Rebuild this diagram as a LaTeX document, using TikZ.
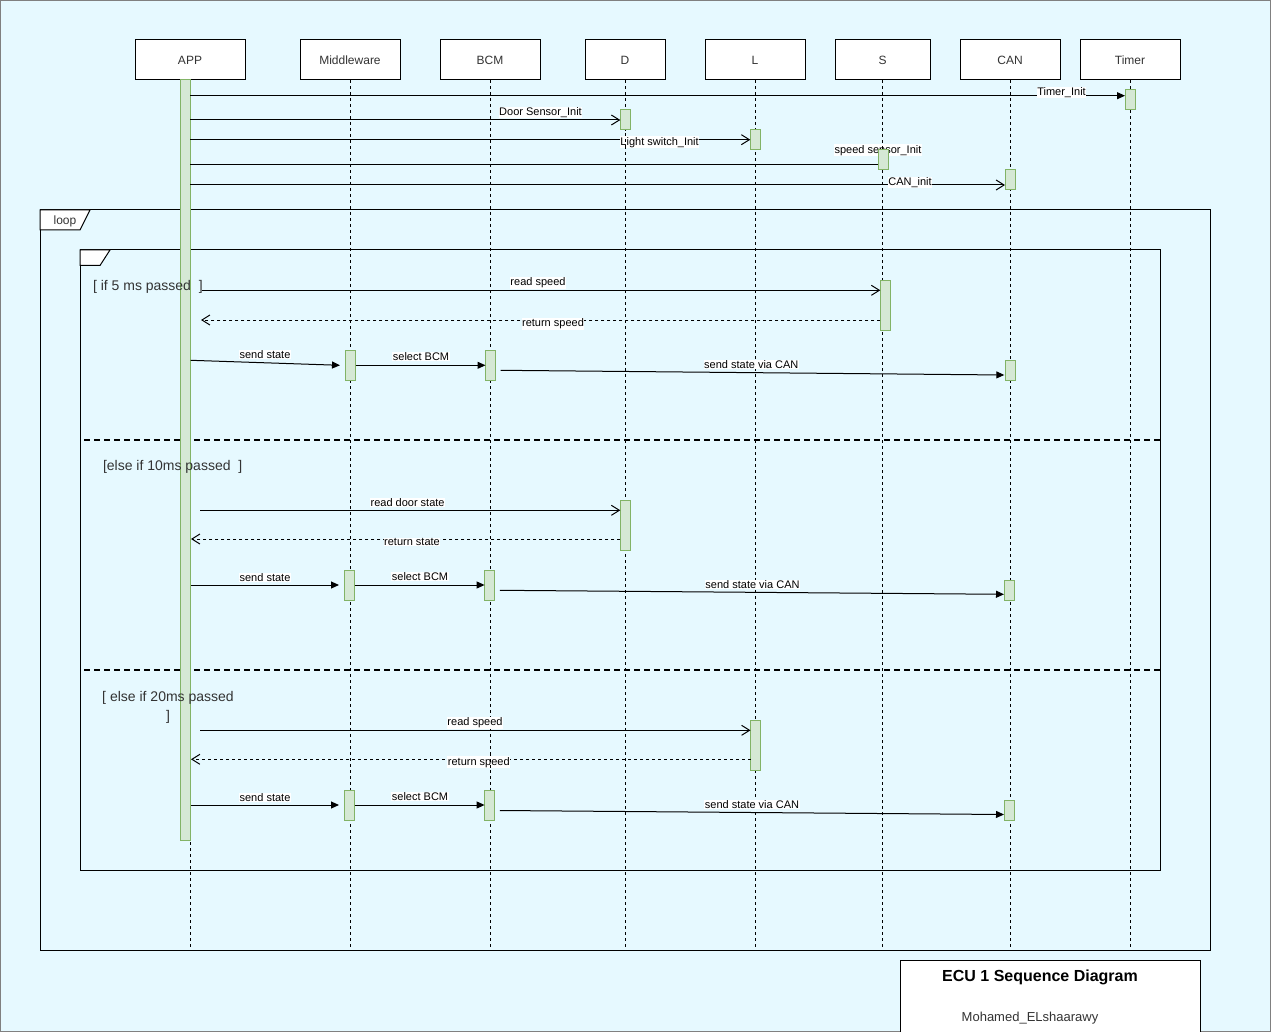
\documentclass[tikz,border=0pt]{standalone}
\usepackage{fontspec}
\setmainfont{Liberation Sans}
\usetikzlibrary{arrows.meta}
\definecolor{bgcol}{HTML}{E6F9FF}
\definecolor{actfill}{HTML}{D5E8D4}
\definecolor{actdraw}{HTML}{82B366}
\definecolor{txtgray}{HTML}{333333}
\begin{document}
\begin{tikzpicture}[x=1pt,y=-1pt,
  every node/.style={inner sep=0pt,outer sep=0pt},
  party/.style={draw=black,fill=white,line width=1pt,minimum width=#1,minimum height=40,
    font=\fontsize{12}{14}\selectfont,text=txtgray},
  lifeline/.style={draw=black,line width=0.9pt,dash pattern=on 3pt off 3pt},
  act/.style={draw=actdraw,fill=actfill,line width=1pt,minimum width=10,minimum height=#1},
  frame/.style={draw=black,line width=1pt},
  separator/.style={draw=black,line width=2pt,dash pattern=on 6pt off 4pt},
  sync/.style={draw=black,line width=1pt,-{Triangle[length=8pt,width=7pt]}},
  async/.style={draw=black,line width=1pt,-{Straight Barb[length=8pt,width=10pt]}},
  reply/.style={async,dash pattern=on 3pt off 3pt},
  lbl/.style={fill=white,inner sep=0.6pt,yshift=-1.2pt,font=\fontsize{11}{13}\selectfont},
  guard/.style={font=\fontsize{14}{19}\selectfont,text=txtgray,yshift=-1pt},
]
% page and background
\useasboundingbox (0,0) rectangle (1271,1032);
\fill[bgcol] (0,0) rectangle (1271,1032);
\draw[gray,line width=1pt] (0.5,0.5) rectangle (1270.5,1031.5);

% combined fragments
\draw[frame] (40,210) rectangle (1210,950);
\draw[frame,fill=white] (40,210) -- (90,210) -- (80,230) -- (40,230) -- cycle;
\node[font=\fontsize{12}{14}\selectfont,text=txtgray,yshift=-1pt] (looplbl) at (65,220) {loop};
\draw[frame] (80,250) rectangle (1160,870);
\draw[frame,fill=white] (80,250) -- (110,250) -- (100,265.5) -- (80,265.5) -- cycle;
\draw[separator] (84,440) -- (1160,440);
\draw[separator] (84,670) -- (1160,670);

% participants
\begin{scope}[every node/.append style={text depth=0pt}]
\node[party=110] (app) at (190,60) {APP};
\node[party=100] (mw)  at (350,60) {Middleware};
\node[party=100] (bcm) at (490,60) {BCM};
\node[party=80]  (d)   at (625,60) {D};
\node[party=100] (l)   at (755,60) {L};
\node[party=95]  (s)   at (882.5,60) {S};
\node[party=100] (can) at (1010,60) {CAN};
\node[party=100] (tmr) at (1130,60) {Timer};
\end{scope}

% label partly hidden by the S activation
\node[lbl] (lblSpeedInit) at (878,149) {speed sensor\_Init};

% lifelines
\foreach \p/\x in {app/190,mw/350.3,bcm/490.3,d/625.3,l/755.5,s/882.5,can/1010,tmr/1130}
  \draw[lifeline] (\p.south -| \x,0) -- (\x,950);

% activations
\node[act=760] (appbar) at (185,460) {};
\node[act=20] (tmrA) at (1130,100) {};
\node[act=20] (dA0) at (625.3,120) {};
\node[act=20] (lA0) at (755.3,140) {};
\node[act=20] (sA0) at (883,160) {};
\node[act=20] (canA0) at (1010,180) {};

\node[act=50] (sA1) at (885.3,305.3) {};
\node[act=30] (mwA1) at (350.5,365.3) {};
\node[act=30] (bcmA1) at (490.5,365.3) {};
\node[act=20] (canA1) at (1010.3,370.2) {};

\node[act=50] (dA2) at (625.3,525) {};
\node[act=30] (mwA2) at (349.5,585.3) {};
\node[act=30] (bcmA2) at (489.6,585.3) {};
\node[act=20] (canA2) at (1009.5,590) {};

\node[act=50] (lA3) at (755.5,745) {};
\node[act=30] (mwA3) at (349.5,805.3) {};
\node[act=30] (bcmA3) at (489.6,805.3) {};
\node[act=20] (canA3) at (1009.5,810) {};

% initialisation messages
\draw[sync]  (appbar.east |- 0,95.7) -- (tmrA.west |- 0,95.7);
\draw[async] (appbar.east |- 0,120) -- (dA0.west |- 0,120);
\draw[async] (appbar.east |- 0,139.7) -- (lA0.west |- 0,139.7);
\draw[line width=1pt] (appbar.east |- 0,164.3) -- (sA0.west |- 0,164.3);
\draw[async] (appbar.east |- 0,185) -- (canA0.west |- 0,185);

% first alternative: every 5 ms
\coordinate (g1a) at (202,290.3);
\coordinate (g1b) at (201,320);
\coordinate (g1c) at (190.7,360.3);
\coordinate (g1d) at (340,365.3);
\coordinate (g1e) at (500.7,370.3);
\coordinate (g1f) at (1004.3,375);
\draw[async] (g1a) -- (sA1.west |- g1a);
\draw[reply] (sA1.west |- g1b) -- (g1b);
\draw[sync] (g1c) -- (g1d);
\draw[sync] (mwA1.east) -- (bcmA1.west);
\draw[sync] (g1e) -- (g1f);

% second alternative: every 10 ms
\coordinate (g2a) at (200,510.3);
\coordinate (g2b) at (191,539);
\coordinate (g2c) at (191.4,585);
\coordinate (g2d) at (339,585);
\coordinate (g2e) at (499.8,590.3);
\coordinate (g2f) at (1004,594.3);
\draw[async] (g2a) -- (dA2.west |- g2a);
\draw[reply] (dA2.west |- g2b) -- (g2b);
\draw[sync] (g2c) -- (g2d);
\draw[sync] (mwA2.east |- g2c) -- (bcmA2.west |- g2c);
\draw[sync] (g2e) -- (g2f);

% third alternative: every 20 ms
\coordinate (g3a) at (200,730.3);
\coordinate (g3b) at (191,759.3);
\coordinate (g3c) at (191.4,805);
\coordinate (g3d) at (339,805);
\coordinate (g3e) at (499.8,810.5);
\coordinate (g3f) at (1004,814.5);
\draw[async] (g3a) -- (lA3.west |- g3a);
\draw[reply] (lA3.west |- g3b) -- (g3b);
\draw[sync] (g3c) -- (g3d);
\draw[sync] (mwA3.east |- g3c) -- (bcmA3.west |- g3c);
\draw[sync] (g3e) -- (g3f);

% message labels
\node[lbl] (lblTimer) at (1061.5,91) {Timer\_Init};
\node[lbl] (lblDoor) at (540.5,111.3) {Door Sensor\_Init};
\node[lbl] (lblLight) at (659.6,141) {Light switch\_Init};
\node[lbl] (lblCanInit) at (910,181) {CAN\_init};

\node[lbl] (lblRead1) at (538,281.7) {read speed};
\node[lbl] (lblRet1) at (553,322.7) {return speed};
\node[lbl] (lblSend1) at (265,353) {send state};
\node[lbl] (lblSel1) at (421,355.3) {select BCM};
\node[lbl] (lblCan1) at (751.3,363.3) {send state via CAN};

\node[lbl] (lblRead2) at (407.6,501) {read door state};
\node[lbl] (lblRet2) at (412,541) {return state};
\node[lbl] (lblSend2) at (265,576) {send state};
\node[lbl] (lblSel2) at (420,575) {select BCM};
\node[lbl] (lblCan2) at (752.5,583) {send state via CAN};

\node[lbl] (lblRead3) at (475,721.7) {read speed};
\node[lbl] (lblRet3) at (478.8,761) {return speed};
\node[lbl] (lblSend3) at (265,796) {send state};
\node[lbl] (lblSel3) at (420,795) {select BCM};
\node[lbl] (lblCan3) at (752,803) {send state via CAN};

% lifeline pieces that run over their labels
\draw[lifeline] (625.3,133) -- (625.3,149);
\draw[lifeline] (490.3,753) -- (490.3,769);

% guards
\node[guard,anchor=west] (guard1) at (93,285.7) {[ if 5 ms passed\ \ ]};
\node[guard,anchor=west] (guard2) at (103,465.7) {[else if 10ms passed\ \ ]};
\node[guard,align=center] (guard3) at (168,706.5) {[ else if 20ms passed\\]};

% title block
\draw[frame,fill=white] (900,960) rectangle (1200,1040);
\node[font=\bfseries\fontsize{16}{19}\selectfont,yshift=-1pt] (title) at (1040,976) {ECU 1 Sequence Diagram};
\node[font=\fontsize{13}{15}\selectfont,text=txtgray,yshift=-1pt] (author) at (1030,1017) {Mohamed\_ELshaarawy};
\end{tikzpicture}
\end{document}
